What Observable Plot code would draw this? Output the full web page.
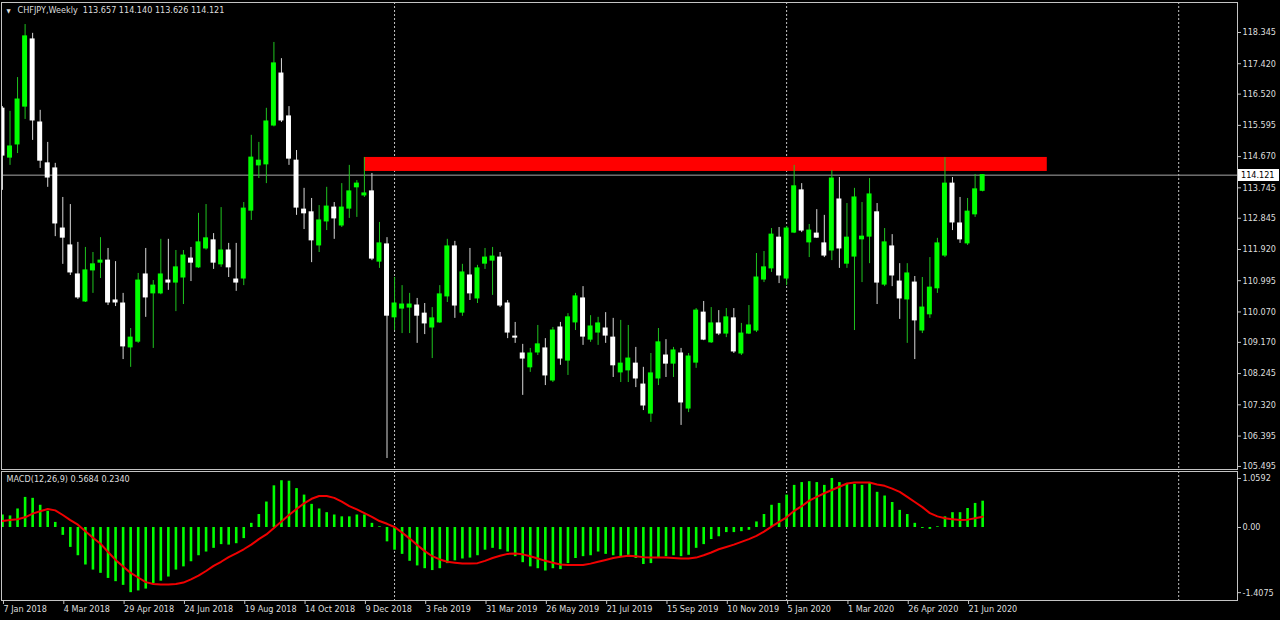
<!DOCTYPE html>
<html><head><meta charset="utf-8">
<script src="https://cdn.jsdelivr.net/npm/d3@7"></script>
<script src="https://cdn.jsdelivr.net/npm/@observablehq/plot@0.6"></script>
<style>
html,body{margin:0;padding:0;background:#000;}
#chart{position:relative;width:1280px;height:620px;background:#000;overflow:hidden;}
#chart .panel{position:absolute;left:0;}
#pricebox{position:absolute;background:#fff;color:#000;font:9px 'DejaVu Sans Condensed','DejaVu Sans',sans-serif;line-height:12px;height:12px;padding-left:3px;box-sizing:border-box;white-space:nowrap;}
</style></head><body><div id="chart"></div>
<script>
// ---- data (weekly CHFJPY, first bar week of 7 Jan 2018) ----
const headerText = "CHFJPY,Weekly  113.657 114.140 113.626 114.121";
const macdText = "MACD(12,26,9) 0.5684 0.2340";
const firstWeek = "7 Jan 2018";
const open = [116.09,114.64,115.03,116.15,118.14,115.68,114.47,114.32,112.54,112.04,
111.18,110.38,111.30,111.53,111.59,110.41,110.32,109.02,109.19,111.18,
110.62,110.62,111.00,110.94,111.09,111.65,111.39,111.95,112.19,111.48,
111.89,111.03,111.06,113.07,114.41,114.44,115.59,117.13,115.86,114.55,
113.10,113.02,112.04,112.75,113.16,112.63,113.13,113.76,113.52,113.64,
111.56,112.07,109.91,110.17,110.20,110.26,110.02,109.61,109.76,110.53,
112.01,110.05,111.15,110.47,111.50,111.59,111.68,110.32,109.34,108.84,
108.43,108.87,108.99,108.04,109.61,108.63,109.76,110.47,109.25,109.46,
109.58,109.31,108.28,108.34,108.54,107.92,107.06,108.10,108.78,108.54,
108.84,107.21,108.57,110.05,109.17,109.73,109.43,109.88,108.84,109.43,
109.52,111.03,111.36,112.27,111.06,112.42,113.67,112.13,112.39,112.10,
111.89,113.40,111.50,111.71,112.22,112.30,113.02,110.88,112.01,110.97,
110.44,110.94,109.52,110.00,110.77,111.74,113.87,112.69,112.10,112.96,
113.657];
const high = [116.15,116.01,117.01,118.58,118.32,116.04,115.09,114.47,113.46,113.25,
112.13,111.98,111.83,112.27,111.95,111.56,110.62,109.58,111.21,111.95,
111.00,112.22,112.22,111.89,111.89,111.98,112.99,113.25,112.39,113.16,
112.10,112.10,113.31,115.30,115.09,116.10,118.05,117.57,116.15,114.85,
113.73,113.43,113.22,113.76,113.31,113.87,114.41,113.96,114.64,114.17,
112.72,112.27,111.09,110.85,110.62,110.47,110.32,110.20,110.85,112.22,
112.16,111.48,111.95,111.45,111.95,111.98,111.83,110.41,109.76,109.11,
108.99,109.67,109.28,109.61,109.76,110.02,110.62,110.82,109.96,109.91,
110.05,109.88,109.82,109.67,109.02,108.43,108.84,109.58,109.25,109.02,
108.99,108.84,110.17,110.38,110.20,110.11,110.17,110.17,109.73,110.26,
111.80,111.86,112.54,112.57,112.60,114.41,113.87,112.66,113.10,112.93,
114.26,114.05,113.28,113.73,113.31,114.02,113.28,112.54,112.36,111.50,
111.50,111.12,111.09,111.68,112.25,114.64,114.05,113.46,113.43,114.14,
114.140];
const low = [113.67,114.41,114.76,115.77,115.15,114.32,113.76,112.30,111.48,111.15,
110.44,110.35,110.62,111.06,110.26,110.23,108.66,108.43,109.14,109.91,
108.99,110.58,110.71,110.08,110.29,110.97,111.36,111.90,111.33,111.39,
111.09,110.68,110.85,112.78,114.02,113.87,115.55,115.68,114.41,112.93,
112.51,111.53,111.83,112.48,112.22,112.57,112.84,112.87,113.46,111.59,
111.36,105.73,109.52,109.43,109.43,109.14,109.40,108.69,109.73,110.35,
109.88,109.94,110.41,110.32,111.33,110.56,110.20,109.28,109.14,107.60,
108.28,108.78,107.89,107.98,108.49,108.19,109.52,109.08,109.17,109.08,
109.14,108.13,107.98,107.98,107.83,107.15,106.80,107.89,108.13,108.13,
106.71,107.09,108.40,109.22,109.14,109.37,109.31,108.84,108.78,109.40,
109.46,110.94,111.24,110.91,110.85,112.39,112.42,111.68,112.25,111.68,
111.59,111.36,111.36,109.52,110.94,111.50,110.29,110.82,110.82,109.85,
109.14,108.66,109.43,109.88,110.62,111.68,112.48,112.10,112.04,112.87,
113.626];
const close = [114.70,114.97,116.36,118.23,115.74,114.55,114.05,112.69,112.27,111.24,
110.50,111.30,111.48,111.59,110.35,110.35,109.05,109.31,111.00,110.50,
110.85,111.18,110.94,111.39,111.74,111.53,112.13,112.25,111.53,111.89,
111.39,110.94,113.13,114.64,114.55,115.71,117.43,115.74,114.61,113.16,
112.99,112.19,112.78,113.19,112.84,113.16,113.64,113.87,113.58,111.65,
112.10,109.96,110.32,110.29,110.29,109.96,109.73,109.88,110.59,112.01,
110.26,111.24,110.62,111.36,111.68,111.71,110.26,109.46,109.31,108.69,
108.84,109.11,108.19,109.52,108.69,109.91,110.53,109.34,109.64,109.73,
109.37,108.49,108.54,108.69,108.10,107.30,108.25,109.17,108.54,108.93,
107.39,108.75,110.11,109.25,109.73,109.43,109.91,108.90,109.43,109.67,
111.09,111.39,112.36,111.15,112.54,113.79,112.48,112.48,112.27,111.74,
114.02,111.95,112.27,113.46,112.30,113.55,110.94,112.13,111.15,110.47,
111.21,109.82,110.20,110.79,112.10,113.87,112.72,112.22,113.04,113.70,
114.121];
const macdHist = [0.27,0.25,0.40,0.65,0.63,0.48,0.35,0.11,-0.17,-0.43,
-0.61,-0.81,-0.92,-0.99,-1.10,-1.17,-1.25,-1.4075,-1.37,-1.33,
-1.21,-1.16,-1.07,-0.92,-0.85,-0.74,-0.61,-0.53,-0.45,-0.37,
-0.38,-0.35,-0.24,0.09,0.28,0.55,0.90,1.01,1.00,0.84,
0.70,0.50,0.40,0.32,0.27,0.23,0.23,0.27,0.27,0.09,
0.015,-0.31,-0.49,-0.58,-0.73,-0.83,-0.89,-0.93,-0.89,-0.78,
-0.72,-0.68,-0.66,-0.61,-0.49,-0.45,-0.48,-0.53,-0.63,-0.76,
-0.85,-0.89,-0.94,-0.89,-0.91,-0.78,-0.67,-0.63,-0.61,-0.53,
-0.58,-0.61,-0.63,-0.60,-0.67,-0.80,-0.78,-0.67,-0.63,-0.61,
-0.63,-0.60,-0.45,-0.37,-0.26,-0.20,-0.11,-0.11,-0.09,-0.06,
0.12,0.28,0.48,0.52,0.70,0.91,0.97,0.99,0.97,0.91,
1.0592,0.97,0.93,0.93,0.91,0.95,0.76,0.68,0.54,0.37,
0.28,0.09,-0.02,-0.04,0.015,0.23,0.32,0.32,0.41,0.52,
0.5684];
const macdSignal = [0.14,0.16,0.18,0.22,0.30,0.35,0.40,0.37,0.27,0.16,
0.06,-0.08,-0.22,-0.35,-0.53,-0.70,-0.84,-0.98,-1.08,-1.18,
-1.22,-1.23,-1.23,-1.22,-1.19,-1.12,-1.04,-0.94,-0.83,-0.74,
-0.64,-0.56,-0.47,-0.37,-0.25,-0.15,-0.01,0.13,0.27,0.40,
0.52,0.62,0.68,0.68,0.64,0.56,0.46,0.39,0.31,0.23,
0.14,0.08,0.01,-0.11,-0.24,-0.38,-0.51,-0.62,-0.69,-0.74,
-0.76,-0.78,-0.78,-0.77,-0.72,-0.66,-0.61,-0.57,-0.56,-0.58,
-0.62,-0.67,-0.72,-0.76,-0.80,-0.81,-0.81,-0.81,-0.78,-0.74,
-0.70,-0.66,-0.63,-0.61,-0.62,-0.64,-0.65,-0.65,-0.65,-0.66,
-0.67,-0.67,-0.65,-0.60,-0.54,-0.47,-0.42,-0.37,-0.31,-0.25,
-0.18,-0.09,0.02,0.12,0.22,0.36,0.46,0.58,0.66,0.74,
0.81,0.88,0.95,0.97,0.97,0.97,0.93,0.90,0.84,0.77,
0.66,0.55,0.44,0.31,0.24,0.20,0.18,0.16,0.17,0.20,
0.234];
const priceTicks = [118.345,117.420,116.520,115.595,114.670,113.745,112.845,111.920,110.995,110.070,109.170,108.245,107.320,106.395,105.495];
const macdTicks = [1.0592, 0, -1.4075];
const macdTickLabels = ["1.0592", "0.00", "-1.4075"];
const dateTickLabels = ["7 Jan 2018","4 Mar 2018","29 Apr 2018","24 Jun 2018","19 Aug 2018","14 Oct 2018","9 Dec 2018","3 Feb 2019","31 Mar 2019","26 May 2019","21 Jul 2019","15 Sep 2019","10 Nov 2019","5 Jan 2020","1 Mar 2020","26 Apr 2020","21 Jun 2020"];
const periodSeparators = ["6 Jan 2019","5 Jan 2020","3 Jan 2021"];
const zoneFrom = "9 Dec 2018", zoneTo = "3 Sep 2020";
const zoneTop = 114.645, zoneBottom = 114.23;

// ---- build ----
const parse = d3.utcParse("%d %b %Y");
const WEEK = 7 * 864e5;
const t0 = +parse(firstWeek);
const dates = open.map((_, i) => new Date(t0 + i * WEEK));
const candles = dates.map((d, i) => ({date: d, o: open[i], h: high[i], l: low[i], c: close[i], up: close[i] >= open[i]}));
const ups = candles.filter(d => d.up), downs = candles.filter(d => !d.up);
const macdData = dates.map((d, i) => ({date: d, hist: macdHist[i], signal: macdSignal[i]}));
const tickDates = dateTickLabels.map(parse);
const sepDates = periodSeparators.map(parse);
const lastClose = close[close.length - 1];

const xDomain = [new Date(t0 - 0.13 * WEEK), new Date(t0 + 163.8 * WEEK)];
const half = 0.33 * WEEK;
const FONT = "'DejaVu Sans Condensed','DejaVu Sans',sans-serif";
const TXT = "#dedede", GRID = "#c4c4c4";
const BULL = "#00ff00", BEAR = "#ffffff";

function body(data, fill) {
  return Plot.rect(data, {
    x1: d => new Date(+d.date - half), x2: d => new Date(+d.date + half),
    y1: d => Math.min(d.o, d.c), y2: d => Math.max(d.o, d.c),
    fill, insetTop: -0.5, insetBottom: -0.5, clip: true
  });
}

const main = Plot.plot({
  width: 1280, height: 470,
  marginTop: 2, marginBottom: 1, marginLeft: 1, marginRight: 43,
  style: {background: "#000", color: TXT, fontFamily: FONT, fontSize: "9px", overflow: "visible"},
  x: {type: "utc", domain: xDomain, axis: null},
  y: {domain: [105.405, 119.233], axis: null},
  marks: [
    Plot.ruleX(sepDates, {stroke: GRID, strokeDasharray: "2,2"}),
    Plot.rect([{a: parse(zoneFrom), b: parse(zoneTo)}], {x1: "a", x2: "b", y1: () => zoneBottom, y2: () => zoneTop, fill: "#ff0000"}),
    Plot.ruleY([lastClose], {stroke: "#a8a8a8"}),
    Plot.ruleX(ups, {x: "date", y1: "l", y2: "h", stroke: "#1fc41f", clip: true}),
    Plot.ruleX(downs, {x: "date", y1: "l", y2: "h", stroke: "#d8d8d8", clip: true}),
    body(ups, BULL),
    body(downs, BEAR),
    Plot.frame({stroke: GRID}),
    Plot.axisY(priceTicks, {anchor: "right", tickSize: 3, tickPadding: 2, stroke: GRID, fill: TXT, tickFormat: d => d.toFixed(3)}),
    Plot.text(["\u25BC"], {frameAnchor: "top-left", dx: 5, dy: 6, fontSize: 6, fill: TXT}),
    Plot.text([headerText], {frameAnchor: "top-left", dx: 16, dy: 4, fontSize: 9, fill: TXT})
  ]
});

const macd = Plot.plot({
  width: 1280, height: 150,
  marginTop: 1, marginBottom: 20, marginLeft: 1, marginRight: 43,
  style: {background: "#000", color: TXT, fontFamily: FONT, fontSize: "9px", overflow: "visible"},
  x: {type: "utc", domain: xDomain, axis: null},
  y: {domain: [-1.5767, 1.2095], axis: null},
  marks: [
    Plot.ruleX(sepDates, {stroke: GRID, strokeDasharray: "2,2"}),
    Plot.ruleX(macdData, {x: "date", y1: () => 0, y2: "hist", stroke: BULL, strokeWidth: 2.6, clip: true}),
    Plot.line(macdData, {x: "date", y: "signal", stroke: "#f00000", strokeWidth: 2, clip: true}),
    Plot.frame({stroke: GRID}),
    Plot.axisY(macdTicks, {anchor: "right", tickSize: 3, tickPadding: 2, stroke: GRID, fill: TXT,
      tickFormat: d => macdTickLabels[macdTicks.indexOf(d)]}),
    Plot.axisX(tickDates, {anchor: "bottom", tickSize: 4, tickPadding: 1, textAnchor: "start", dx: 1, stroke: GRID, fill: TXT,
      tickFormat: d => dateTickLabels[tickDates.findIndex(t => +t === +d)]}),
    Plot.text([macdText], {frameAnchor: "top-left", dx: 5, dy: 4, fill: TXT})
  ]
});

const root = document.getElementById("chart");
const p1 = document.createElement("div"); p1.className = "panel"; p1.style.top = "0px"; p1.appendChild(main);
const p2 = document.createElement("div"); p2.className = "panel"; p2.style.top = "470px"; p2.appendChild(macd);
root.appendChild(p1); root.appendChild(p2);

// current price label box on the right axis, positioned through the plot's y scale
const yPix = main.scale("y").apply(lastClose);
const box = document.createElement("div");
box.id = "pricebox";
box.textContent = lastClose.toFixed(3);
box.style.left = (1280 - 43 + 1) + "px";
box.style.width = "41px";
box.style.top = Math.round(yPix - 6) + "px";
root.appendChild(box);
</script></body></html>
